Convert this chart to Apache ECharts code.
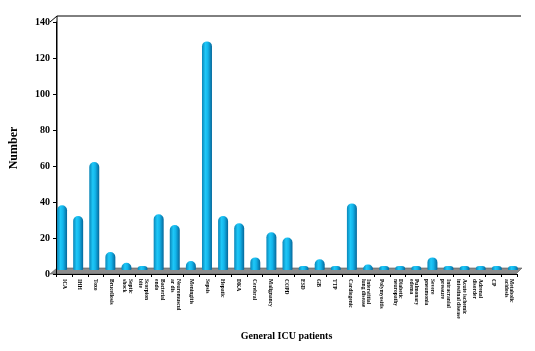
<!DOCTYPE html>
<html>
<head>
<meta charset="utf-8">
<script src="https://cdn.jsdelivr.net/npm/echarts@6/dist/echarts.min.js"></script>
<style>
  html, body { margin: 0; padding: 0; background: #fff; }
  #chart { width: 535px; height: 351px; }
</style>
</head>
<body>
<div id="chart"></div>
<script>
// categories
var categories = [
  'ICA', 'IHH', 'Toxo', 'Brucellosis', 'Septic\nshock', 'Scorpion\nbite',
  'Bacterial\nendo', 'Neuromuscul\nar dis', 'Meningitis', 'Sepsis', 'Hepatic',
  'DKA', 'Cerebral', 'Malignancy', 'COPD', 'ESD', 'GB', 'TTP', 'Cardiogenic',
  'Interstitial\nlung disease', 'Polymyositis', 'Diabetic\nneuropathy',
  'Pulmonary\nedema', 'Severe\npneumonia', 'Intracranial\npressure',
  'Acute ischemic\nintestinal disease', 'Adrenal\ndisorder', 'CP',
  'Metabolic\nacidosis'
];
// number of patients
var counts = [
  36, 30, 60, 10, 4, 1, 31, 25, 5, 127, 30, 26, 7, 21, 18, 1, 6, 2, 37,
  3, 2, 1, 1, 7, 2, 1, 2, 2, 1
];
var yTicks = [0, 20, 40, 60, 80, 100, 120, 140];

var serif = '"Liberation Serif", "DejaVu Serif", serif';
var myChart = echarts.init(document.getElementById('chart'));

var barColor = new echarts.graphic.LinearGradient(0, 0, 1, 0, [
  { offset: 0, color: '#0a86b8' },
  { offset: 0.35, color: '#1ec8f8' },
  { offset: 0.6, color: '#12b4ea' },
  { offset: 1, color: '#06679a' }
]);

var option = {
  backgroundColor: '#fff',
  animation: false,
  grid: [
    { left: 50, right: 18, top: 22, bottom: 77 },
    // same scale, pushed back into the floor depth (pseudo 3D)
    { left: 54, right: 14, top: 18, bottom: 81 }
  ],
  graphic: [
    // back wall / floor of the pseudo 3D plot area
    { type: 'polyline', z: 0, silent: true,
      shape: { points: [[50, 22], [57, 16], [521, 16]] },
      style: { stroke: '#000', lineWidth: 1, fill: null } },
    { type: 'line', z: 0, silent: true,
      shape: { x1: 57, y1: 16, x2: 57, y2: 268 },
      style: { stroke: '#000', lineWidth: 1 } },
    { type: 'polygon', z: 0, silent: true,
      shape: { points: [[50, 274], [57, 268], [522, 268], [516, 274]] },
      style: { fill: '#8c8c8c', stroke: '#555', lineWidth: 0.6 } }
  ],
  xAxis: [{
    type: 'category',
    gridIndex: 0,
    data: categories,
    name: 'General ICU patients',
    nameLocation: 'middle',
    nameGap: 57,
    nameTextStyle: { fontFamily: serif, fontWeight: 'bold', fontSize: 10, color: '#000' },
    axisLine: { lineStyle: { color: '#000', width: 1 } },
    axisTick: { show: true, length: 3, lineStyle: { color: '#000' } },
    axisLabel: {
      interval: 0,
      rotate: -90,
      fontFamily: serif,
      fontWeight: 'bold',
      fontSize: 5.5,
      lineHeight: 5.5,
      color: '#000',
      margin: 5
    }
  }, {
    type: 'category',
    gridIndex: 1,
    data: categories,
    show: false
  }],
  yAxis: [{
    type: 'value',
    gridIndex: 0,
    min: yTicks[0],
    max: yTicks[yTicks.length - 1],
    interval: 20,
    name: 'Number',
    nameLocation: 'middle',
    nameGap: 36,
    nameTextStyle: { fontFamily: serif, fontWeight: 'bold', fontSize: 12, color: '#000' },
    axisLine: { show: true, lineStyle: { color: '#000', width: 1 } },
    axisTick: { show: true, length: 3, lineStyle: { color: '#000' } },
    axisLabel: { fontFamily: serif, fontWeight: 'bold', fontSize: 10, color: '#000', margin: 6 },
    splitLine: { show: false }
  }, {
    type: 'value',
    gridIndex: 1,
    min: yTicks[0],
    max: yTicks[yTicks.length - 1],
    interval: 20,
    show: false
  }],
  series: [{
    type: 'bar',
    xAxisIndex: 1,
    yAxisIndex: 1,
    data: counts,
    barWidth: '62%',
    barMinHeight: 4,
    zlevel: 1,
    itemStyle: {
      color: barColor,
      borderRadius: [5, 5, 1, 1]
    }
  }]
};
myChart.setOption(option);
</script>
</body>
</html>
